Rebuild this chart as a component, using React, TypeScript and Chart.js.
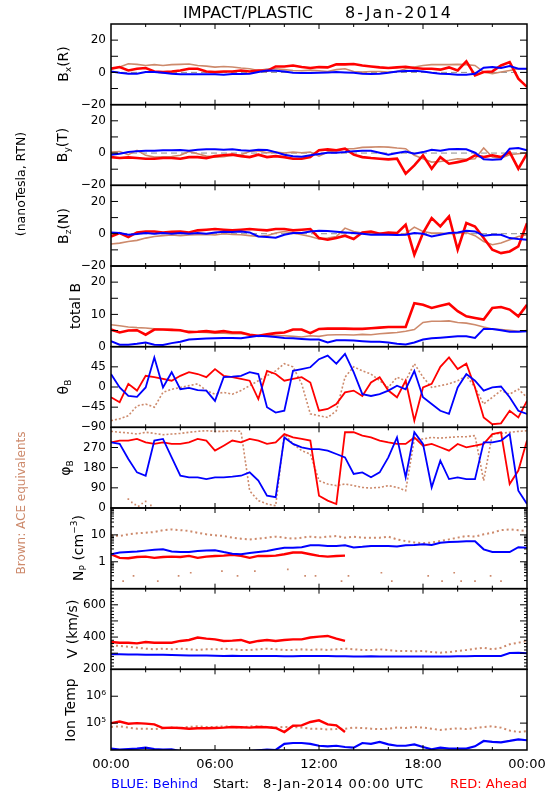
import React, { useEffect, useRef } from 'react';
import { Chart, registerables } from 'chart.js';
Chart.register(...registerables);

const FONT = "'DejaVu Sans', sans-serif";
const BLUE = '#0000ff';
const RED = '#ff0000';
const BROWN = '#cd8a6c';

// time grid (hours after 00:00 UT), 30-minute samples
const hours = Array.from({ length: 49 }, (_, i) => i * 0.5);

const xTickValues = [0, 6, 12, 18, 24];
const xTickLabels = ['00:00', '06:00', '12:00', '18:00', '00:00'];
const xMajorTicks = [6, 12, 18];
const xMinorTicks = [2, 4, 8, 10, 14, 16, 20, 22];

// ---- Bx (R) ----
const bxBlue = [0.6,-0.2,-0.8,-0.8,0.2,0.2,-0.2,-0.8,-1.2,-1.2,-1.2,-1.2,-1.2,-1.4,-1,-1,-0.8,0.2,1.2,1,0.6,-0.2,-0.4,-0.4,-0.2,0,0.2,0,-0.2,-0.8,-1,-0.8,-0.2,0.6,0.8,1,0.6,-0.2,-0.8,-1,-1.4,-1.4,-0.8,2.9,3.3,2.7,3.9,2.3,2.3];
const bxRed = [2.3,3.3,1.2,2.3,2.7,0.6,0.2,0.6,1.2,2.3,2.3,0.6,0.2,0.6,0.6,1.2,0.6,1.2,1,3.7,3.7,4.3,3.3,2.7,3.3,3.1,5,5,5.2,4.3,3.7,3.1,2.7,3.1,3.5,2.7,2.3,2.3,1.7,3.1,1.2,6.8,-1.9,0.2,0.6,4.3,6.4,-3.9,-9];
const bxBrown = [2.3,3.3,5.4,5,4.3,4.8,4.3,4.8,5,5.2,4.3,3.9,3.3,3.7,3.3,2.7,2.3,1.2,2.1,2.3,1.7,1.2,1,1.4,1,0.6,1.7,2.3,0.6,0.2,0.6,0.6,0.2,0.6,2.3,3.3,4.3,4.8,4.8,4.8,5,4.8,4.3,0.2,-0.8,0.2,1.2,2.3,2.3];

// ---- By (T) ----
const byBlue = [-1,-0.4,0.6,1.2,1.4,1.4,1.7,1.7,1.9,1.4,2.1,2.3,2.3,2.1,2.3,1.7,1.4,2.1,1.9,0.6,-1,-1.9,-2.3,-1.4,-0.6,0.2,0.2,0.6,1.2,1.4,1.4,0.2,-1,0,1,-0.4,0.6,2.1,1.4,2.3,2.5,2.3,0.2,-3.9,-4.1,-3.9,2.7,3.1,1.7];
const byRed = [-2.5,-3.1,-2.7,-3.1,-3.5,-3.5,-3.1,-3.1,-3.5,-2.5,-2.5,-3.1,-1.9,-1.4,-1,-1.9,-2.5,-1,-2.5,-1.9,-2.5,-3.5,-3.5,-2.5,1.7,2.3,1.7,2.7,-1,-2.5,-3.1,-3.5,-3.9,-3.5,-12.8,-7.6,-1.4,-9.7,-2.5,-6.6,-5.6,-4.5,-1.4,-2.5,-1.4,-2.5,0.6,-9.7,-0.4];
const byBrown = [0.6,1,-1,1.7,-1.4,-2.5,-2.3,-2.1,-1.4,1,-0.4,-1.9,-2.5,-2.3,-1.4,-1,1,1.4,0.2,0.6,0,0.6,0.2,0.6,-1.9,0.6,1.7,2.7,2.7,3.5,3.7,3.9,3.7,3.1,2.7,-1.4,-3.5,-5.6,-5.2,-4.5,-3.5,-3.9,-3.5,3.1,-2.5,-3.1,-1,-0.4,0.2];

// ---- Bz (N) ----
const bzBlue = [0.8,0.4,-0.6,-0.2,0.4,0,0.4,0,0.4,0,0.4,0,0.8,1.2,1,1.4,0.8,-1.7,-2.1,-2.5,-0.6,0.4,0.4,1.4,1.9,1.7,1.2,0.8,0.4,0,-0.6,-0.4,-0.6,-0.8,-0.6,0.4,0,-1.7,-0.6,0.4,0.8,1.9,1.4,-1.2,-0.6,-0.6,-2.7,-3.3,-3.7];
const bzRed = [-1.7,0.4,-2.1,0.8,1.4,1.4,0.8,1.2,1.4,0.8,2.1,2.5,2.9,2.5,2.1,2.5,2.9,2.5,2.1,2.9,2.9,2.1,2.5,2.9,-2.7,-3.7,-2.7,-1.2,-3.3,0.8,1.4,0,0.8,0.4,5.6,-13,0.4,9.7,4.5,10.7,-9.9,6.6,4.5,-2.7,-9.9,-12,-11,-7.9,6.6];
const bzBrown = [-6.4,-5.8,-4.8,-4.1,-2.7,-1.7,-1.2,-0.8,-1.2,-0.8,-0.6,-0.4,-0.8,0,-0.4,-0.6,-1.2,-1.7,-1.2,0.4,1.4,0.4,-0.6,-1.7,-3.3,-2.7,-1.7,3.5,1.4,0.4,0,0.4,0,-0.6,0,4.1,1.4,0.4,0.4,0,0.4,0.8,-1.2,-4.8,-6.8,-5.8,-3.7,-1.7,-0.6];

// ---- total B ----
const btBlue = [1.7,0.6,0.6,0.9,1.3,0.6,0.5,1.1,1.5,2.2,2.4,2.5,2.6,2.7,2.7,2.6,3,3.4,3.2,3,2.7,2.6,2.4,2.2,2.2,1.3,2,2,1.9,1.7,1.5,1.5,1.3,0.9,0.7,1.3,2.2,2.6,2.8,3,3.2,3.2,2.7,5.5,5.5,5.1,4.6,4.6,4.8];
const btRed = [5.3,4.4,5,5.1,3.7,5.3,5.3,5.2,5.1,4.5,4.6,4.8,4.5,4.8,4.4,4.4,3.7,3.4,3.8,4.2,4.4,5.3,5.3,4.2,5.5,5.6,5.6,5.6,5.5,5.5,5.7,5.9,6.1,6.1,6.1,13.5,13,12,12.7,13.3,11,9.4,8.9,8.4,12,12.3,11.5,9.4,13];
const btBrown = [6.8,6.5,6.1,5.9,5.8,5.5,5.3,5.3,5,4.8,4.5,4.4,4.2,4.2,4,4,3.6,3.2,3.4,3.4,3.4,3.2,3,3.4,3.2,3.6,3.7,3.7,3.6,3.8,3.7,4,4.2,4.4,4.8,5.3,7.5,7.9,7.9,8,7.5,7.3,6.8,6.1,5.5,5.3,5.1,4.8,5];

// ---- theta B ----
const thBlue = [29,-1,-20,-22,-1,66,-1,33,-5,-2,-7,-8,-31,22,23,25,33,29,-45,-57,-53,36,40,44,62,70,52,74,33,-16,-20,-16,-8,3,-5,36,-23,-38,-53,-60,-1,29,14,-8,-1,1,-23,-53,-60];
const thRed = [-23,-34,7,-8,25,22,18,14,25,33,29,22,40,25,22,18,14,-27,36,29,14,18,22,10,-53,-49,-38,-12,-8,-20,10,22,-8,-23,14,-75,-1,7,45,66,40,52,-1,-68,-83,-81,-53,-68,-31];
const thBrown = [-75,-71,-64,-42,-38,-45,-12,-5,-1,3,7,-8,-16,-12,-16,-8,3,14,25,36,52,45,7,-60,-64,-68,-53,22,45,36,29,14,-1,22,14,52,22,-1,3,7,14,25,-1,-38,-23,-8,-16,-5,-23];

// ---- phi B ----
const phBlue = [293,286,219,159,144,301,308,226,144,137,137,129,137,137,140,144,159,122,55,48,315,286,271,263,263,256,241,226,152,159,137,159,226,315,137,338,286,92,211,129,137,129,129,293,293,301,330,77,18];
const phRed = [293,301,301,308,293,286,293,286,286,293,308,301,256,278,301,293,308,301,286,293,330,315,308,301,55,33,18,338,338,323,315,301,293,286,286,315,278,286,271,256,286,271,278,286,330,338,107,167,301];
const phBrown = [342,338,335,330,338,333,327,330,333,338,342,345,342,342,345,342,77,33,18,10,330,286,256,241,122,107,100,107,100,92,89,92,100,92,77,308,308,315,312,315,318,318,323,122,330,333,338,342,345];
const phBrownLowT = [1.0, 1.2, 1.4, 1.6, 1.8, 2.0, 2.3];
const phBrownLowV = [40, 25, 15, 8, 20, 30, 12];

// ---- Np ----
const npBlue = [1.9,2.2,2.3,2.4,2.6,2.8,2.9,2.4,2.3,2.3,2.5,2.6,2.7,2.3,2.0,1.9,2.1,2.3,2.5,2.9,3.3,3.35,3.5,4.1,4.1,3.9,3.9,4.1,3.4,3.6,3.9,3.9,3.9,3.7,4.1,4.2,4.5,4.2,5.1,5.4,5.6,5.8,5.8,2.9,2.3,2.3,2.3,3.5,3.3];
const npRed = [1.9,1.4,1.35,1.5,1.55,1.4,1.5,1.55,1.5,1.65,1.4,1.55,1.65,1.7,1.8,1.65,1.4,1.65,1.65,1.7,1.9,2.2,2.2,1.9,1.65,1.55,1.65,1.7,null,null,null,null,null,null,null,null,null,null,null,null,null,null,null,null,null,null,null,null,null];
const npBrown = [9.6,9.1,10.5,11.4,12,12.8,15,16,15,14,12,10.5,9.6,9.1,7.9,7.2,6.8,7.2,7.9,8.6,7.9,7.2,7.9,8.6,7.9,8.6,9.1,7.9,8.6,7.9,7.9,7.9,8.6,6.8,5.9,5.2,4.9,5.2,5.9,6.8,7.9,9.1,8.6,10.5,12,15,16,15,14];
const npBrownLowT = [0.7,1.3,2.7,3.9,4.6,6.4,7.3,8.3,10.2,11.2,11.8,13.3,13.7,15.6,16.2,18.3,19.1,19.8,20.2,21,21.9,22.5];
const npBrownLowV = [0.19,0.3,0.19,0.3,0.39,0.45,0.3,0.45,0.52,0.3,0.3,0.19,0.3,0.39,0.19,0.3,0.19,0.39,0.19,0.19,0.3,0.19];

// ---- V ----
const vBlue = [293,293,292,292,291,291,290,289,287,286,285,285,284,283,284,283,283,283,282,282,281,281,282,282,283,282,281,281,280,280,281,280,279,280,280,279,280,279,279,280,281,281,283,283,282,283,301,303,300];
const vRed = [369,365,365,361,369,365,365,365,376,382,397,390,386,376,378,382,365,376,382,376,382,386,386,397,403,407,390,376,null,null,null,null,null,null,null,null,null,null,null,null,null,null,null,null,null,null,null,null,null];
const vBrown = [349,345,340,334,328,324,328,324,328,324,320,324,324,328,324,320,320,324,328,324,320,320,324,320,324,320,324,328,324,320,320,324,320,314,314,312,314,307,303,307,314,320,328,334,324,334,355,365,376];

// ---- Ion Temp ----
const tBlue = [11200,10300,10900,11200,12200,10900,10300,10600,9000,9000,9000,9000,9000,9000,9000,9000,9000,9700,10300,10000,17000,18200,18200,17000,14400,13700,14400,12900,12200,18200,17000,19900,16200,14400,14400,16200,12900,10600,12200,11200,11200,11200,13700,21700,19900,19300,21700,24900,23000];
const tRed = [100000,115000,95300,100000,95300,90000,65700,68000,66000,62000,64000,64000,65700,68000,72000,70000,68000,72000,70000,65700,46500,80000,82600,110000,127000,90000,82600,46500,null,null,null,null,null,null,null,null,null,null,null,null,null,null,null,null,null,null,null,null,null];
const tBrown = [72000,76000,68000,62000,62000,60000,64000,68000,66000,72000,76000,72000,72000,76000,72000,68000,76000,76000,72000,68000,72000,72000,68000,62000,62000,58000,60000,62000,68000,66000,62000,60000,62000,68000,66000,72000,68000,62000,56000,60000,64000,60000,66000,72000,76000,68000,53000,46500,50000];

// ---- y tick values / labels ----
const bTickValues = [-20, 0, 20];
const bTickLabels = ['\u221220', '0', '20'];
const bMajorTicks = [-10, 0, 10, 20];
const totTickValues = [0, 10, 20];
const totTickLabels = ['0', '10', '20'];
const totMajorTicks = [5, 10, 15, 20];
const thTickValues = [-90, -45, 0, 45];
const thTickLabels = ['\u221290', '\u221245', '0', '45'];
const thMajorTicks = [-45, 0, 45];
const phTickValues = [0, 90, 180, 270];
const phTickLabels = ['0', '90', '180', '270'];
const phMajorTicks = [90, 180, 270];
const npTickValues = [1, 10];
const npTickLabels = ['1', '10'];
const npMajorTicks = [1, 10];
const npMinorTicks = [0.2,0.3,0.4,0.5,0.6,0.7,0.8,0.9,2,3,4,5,6,7,8,9,20,30,40,50,60,70,80,90];
const vTickValues = [200, 400, 600];
const vTickLabels = ['200', '400', '600'];
const vMajorTicks = [300, 400, 500, 600];
const vMinorTicks = [220,240,260,280,320,340,360,380,420,440,460,480,520,540,560,580,620,640,660,680];
const tTickValues = [100000, 1000000];
const tTickLabels = ['10\u2075', '10\u2076'];
const tMajorTicks = [100000, 1000000];

type Panel = {
  id: string; type: string; min: number; max: number;
  tickValues: number[]; tickLabels: string[]; major: number[]; minor: number[];
  blue: (number | null)[]; red: (number | null)[]; brown: (number | null)[];
  zero: boolean; blueW: number; redW: number; brownDash: number[]; brownW: number;
};

const panels: Panel[] = [
  { id: 'yBx', type: 'linear', min: -20, max: 30, tickValues: bTickValues, tickLabels: bTickLabels, major: bMajorTicks, minor: [], blue: bxBlue, red: bxRed, brown: bxBrown, zero: true, blueW: 2, redW: 2.6, brownDash: [], brownW: 1.6 },
  { id: 'yBy', type: 'linear', min: -20, max: 30, tickValues: bTickValues, tickLabels: bTickLabels, major: bMajorTicks, minor: [], blue: byBlue, red: byRed, brown: byBrown, zero: true, blueW: 2, redW: 2.6, brownDash: [], brownW: 1.6 },
  { id: 'yBz', type: 'linear', min: -20, max: 30, tickValues: bTickValues, tickLabels: bTickLabels, major: bMajorTicks, minor: [], blue: bzBlue, red: bzRed, brown: bzBrown, zero: true, blueW: 2, redW: 2.6, brownDash: [], brownW: 1.6 },
  { id: 'yBt', type: 'linear', min: 0, max: 25, tickValues: totTickValues, tickLabels: totTickLabels, major: totMajorTicks, minor: [], blue: btBlue, red: btRed, brown: btBrown, zero: false, blueW: 2, redW: 2.6, brownDash: [], brownW: 1.6 },
  { id: 'yTh', type: 'linear', min: -90, max: 90, tickValues: thTickValues, tickLabels: thTickLabels, major: thMajorTicks, minor: [], blue: thBlue, red: thRed, brown: thBrown, zero: false, blueW: 1.8, redW: 1.8, brownDash: [2, 2], brownW: 1.6 },
  { id: 'yPh', type: 'linear', min: 0, max: 360, tickValues: phTickValues, tickLabels: phTickLabels, major: phMajorTicks, minor: [], blue: phBlue, red: phRed, brown: phBrown, zero: false, blueW: 1.8, redW: 1.8, brownDash: [2, 2], brownW: 1.6 },
  { id: 'yNp', type: 'logarithmic', min: 0.1, max: 100, tickValues: npTickValues, tickLabels: npTickLabels, major: npMajorTicks, minor: npMinorTicks, blue: npBlue, red: npRed, brown: npBrown, zero: false, blueW: 2, redW: 2.4, brownDash: [2, 3], brownW: 2 },
  { id: 'yV', type: 'linear', min: 200, max: 700, tickValues: vTickValues, tickLabels: vTickLabels, major: vMajorTicks, minor: vMinorTicks, blue: vBlue, red: vRed, brown: vBrown, zero: false, blueW: 2, redW: 2.4, brownDash: [2, 3], brownW: 2 },
  { id: 'yT', type: 'logarithmic', min: 10000, max: 10000000, tickValues: tTickValues, tickLabels: tTickLabels, major: tMajorTicks, minor: [], blue: tBlue, red: tRed, brown: tBrown, zero: false, blueW: 2.2, redW: 2.4, brownDash: [2, 3], brownW: 2 },
];

const toPts = (arr: (number | null)[]) => arr.map((v, i) => ({ x: hours[i], y: v }));
const pairPts = (ts: number[], vs: number[]) => ts.map((t, i) => ({ x: t, y: vs[i] }));

const framePlugin = {
  id: 'frame',
  afterDraw(chart: any) {
    const ctx = chart.ctx;
    const xs = chart.scales.x;
    const L = xs.left, R = xs.right;
    const seg = (x1: number, y1: number, x2: number, y2: number) => {
      ctx.beginPath(); ctx.moveTo(x1, y1); ctx.lineTo(x2, y2); ctx.stroke();
    };
    ctx.save();
    ctx.strokeStyle = '#000';
    panels.forEach((p) => {
      const s = chart.scales[p.id];
      const T = s.top, B = s.bottom;
      ctx.lineWidth = 1;
      p.major.forEach((v) => { const y = s.getPixelForValue(v); seg(L, y, L + 7, y); seg(R - 7, y, R, y); });
      p.minor.forEach((v) => { const y = s.getPixelForValue(v); seg(L, y, L + 3, y); seg(R - 3, y, R, y); });
      xMajorTicks.forEach((t) => { const x = xs.getPixelForValue(t); seg(x, T, x, T + 5); seg(x, B - 5, x, B); });
      xMinorTicks.forEach((t) => { const x = xs.getPixelForValue(t); seg(x, T, x, T + 3); seg(x, B - 3, x, B); });
      ctx.lineWidth = 1.5;
      ctx.strokeRect(L, T, R - L, B - T);
    });
    ctx.restore();
  },
};

function yScale(p: Panel) {
  return {
    type: p.type, min: p.min, max: p.max, position: 'left', stack: 'panels', stackWeight: 1, offset: false,
    grid: { display: false, drawTicks: false }, border: { display: false },
    ticks: {
      autoSkip: false, padding: 5, color: '#000', font: { family: FONT, size: 12 },
      callback: (v: number) => { const i = p.tickValues.indexOf(v); return i >= 0 ? p.tickLabels[i] : ''; },
    },
    afterBuildTicks: (s: any) => { s.ticks = p.tickValues.map((v) => ({ value: v })); },
    afterFit: (s: any) => { s.width = 111; s.paddingTop = 0; s.paddingBottom = 0; },
  };
}

function buildConfig(): any {
  const scales: any = {
    x: {
      type: 'linear', min: 0, max: 24, position: 'bottom',
      grid: { display: false, drawTicks: false }, border: { display: false },
      ticks: {
        autoSkip: false, maxRotation: 0, padding: 7, color: '#000', font: { family: FONT, size: 13 },
        callback: (v: number) => { const i = xTickValues.indexOf(v); return i >= 0 ? xTickLabels[i] : ''; },
      },
      afterBuildTicks: (s: any) => { s.ticks = xTickValues.map((v) => ({ value: v })); },
      afterFit: (s: any) => { s.height = 50; s.paddingLeft = 0; s.paddingRight = 0; },
    },
  };
  panels.slice().reverse().forEach((p) => { scales[p.id] = yScale(p); });

  const datasets: any[] = [];
  panels.forEach((p) => {
    datasets.push({ data: toPts(p.blue), yAxisID: p.id, xAxisID: 'x', borderColor: BLUE, borderWidth: p.blueW, pointRadius: 0, tension: 0, spanGaps: false, order: 0 });
    datasets.push({ data: toPts(p.red), yAxisID: p.id, xAxisID: 'x', borderColor: RED, borderWidth: p.redW, pointRadius: 0, tension: 0, spanGaps: false, order: 1 });
    datasets.push({ data: toPts(p.brown), yAxisID: p.id, xAxisID: 'x', borderColor: BROWN, borderWidth: p.brownW, borderDash: p.brownDash, pointRadius: 0, tension: 0, spanGaps: false, order: 2 });
    if (p.zero) {
      datasets.push({ data: [{ x: 0, y: 0 }, { x: 24, y: 0 }], yAxisID: p.id, xAxisID: 'x', borderColor: '#8c8c8c', borderWidth: 1, borderDash: [6, 4], pointRadius: 0, order: 3 });
    }
  });
  datasets.push({ data: pairPts(phBrownLowT, phBrownLowV), yAxisID: 'yPh', xAxisID: 'x', showLine: false, pointRadius: 1.2, pointStyle: 'rect', backgroundColor: BROWN, borderWidth: 0, order: 2 });
  datasets.push({ data: pairPts(npBrownLowT, npBrownLowV), yAxisID: 'yNp', xAxisID: 'x', showLine: false, pointRadius: 1.2, pointStyle: 'rect', backgroundColor: BROWN, borderWidth: 0, order: 2 });

  return {
    type: 'line',
    data: { datasets },
    options: {
      animation: false, responsive: false, maintainAspectRatio: false, devicePixelRatio: 1,
      events: [],
      layout: { padding: { left: 0, right: 23, top: 24, bottom: 0 } },
      plugins: { legend: { display: false }, tooltip: { enabled: false }, title: { display: false } },
      scales,
    },
    plugins: [framePlugin],
  };
}

const Sub = ({ children }: { children: any }) => (
  <span style={{ fontSize: 9, position: 'relative', top: 3 }}>{children}</span>
);
const Sup = ({ children }: { children: any }) => (
  <span style={{ fontSize: 9, position: 'relative', top: -6 }}>{children}</span>
);

function Rot({ cx, cy, size = 14, color = '#000', children }: { cx: number; cy: number; size?: number; color?: string; children: any }) {
  return (
    <div style={{
      position: 'absolute', left: cx, top: cy, transform: 'translate(-50%,-50%) rotate(-90deg)',
      whiteSpace: 'pre', fontFamily: FONT, fontSize: size, lineHeight: 1, color,
    }}>{children}</div>
  );
}

function Txt({ x, y, size = 13, color = '#000', spacing = 0, children }: { x: number; y: number; size?: number; color?: string; spacing?: number; children: any }) {
  return (
    <div style={{ position: 'absolute', left: x, top: y, whiteSpace: 'pre', fontFamily: FONT, fontSize: size, lineHeight: 1, color, letterSpacing: spacing }}>{children}</div>
  );
}

export default function App() {
  const ref = useRef<HTMLCanvasElement>(null);
  useEffect(() => {
    const chart = new Chart(ref.current as HTMLCanvasElement, buildConfig());
    return () => chart.destroy();
  }, []);
  return (
    <div style={{ position: 'absolute', left: 0, top: 0, width: 550, height: 800, background: '#fff', overflow: 'hidden' }}>
      <canvas ref={ref} width={550} height={800} style={{ position: 'absolute', left: 0, top: 0, width: 550, height: 800 }} />
      <Txt x={183} y={4.5} size={16}>IMPACT/PLASTIC</Txt>
      <Txt x={345} y={4.5} size={16} spacing={2}>8-Jan-2014</Txt>

      <Rot cx={21} cy={184} size={12.5}>(nanoTesla, RTN)</Rot>
      <Rot cx={21} cy={503} size={12} color={BROWN}>Brown: ACE equivalents</Rot>

      <Rot cx={63} cy={64.3}>B<Sub>x</Sub>(R)</Rot>
      <Rot cx={62} cy={145}>B<Sub>y</Sub>(T)</Rot>
      <Rot cx={62.5} cy={225.7}>B<Sub>z</Sub>(N)</Rot>
      <Rot cx={75} cy={306.3}>total B</Rot>
      <Rot cx={62.5} cy={387}>{'\u03b8'}<Sub>B</Sub></Rot>
      <Rot cx={65} cy={467.7}>{'\u03c6'}<Sub>B</Sub></Rot>
      <Rot cx={78} cy={548.3}>N<Sub>P</Sub> (cm<Sup>{'\u22123'}</Sup>)</Rot>
      <Rot cx={71.5} cy={629}>V (km/s)</Rot>
      <Rot cx={70} cy={709.7}>Ion Temp</Rot>

      <Txt x={111} y={776.5} color={BLUE}>BLUE: Behind</Txt>
      <Txt x={213} y={776.5}>Start:</Txt>
      <Txt x={263} y={776.5} spacing={0.9}>8-Jan-2014 00:00 UTC</Txt>
      <Txt x={450} y={776.5} color={RED}>RED: Ahead</Txt>
    </div>
  );
}
